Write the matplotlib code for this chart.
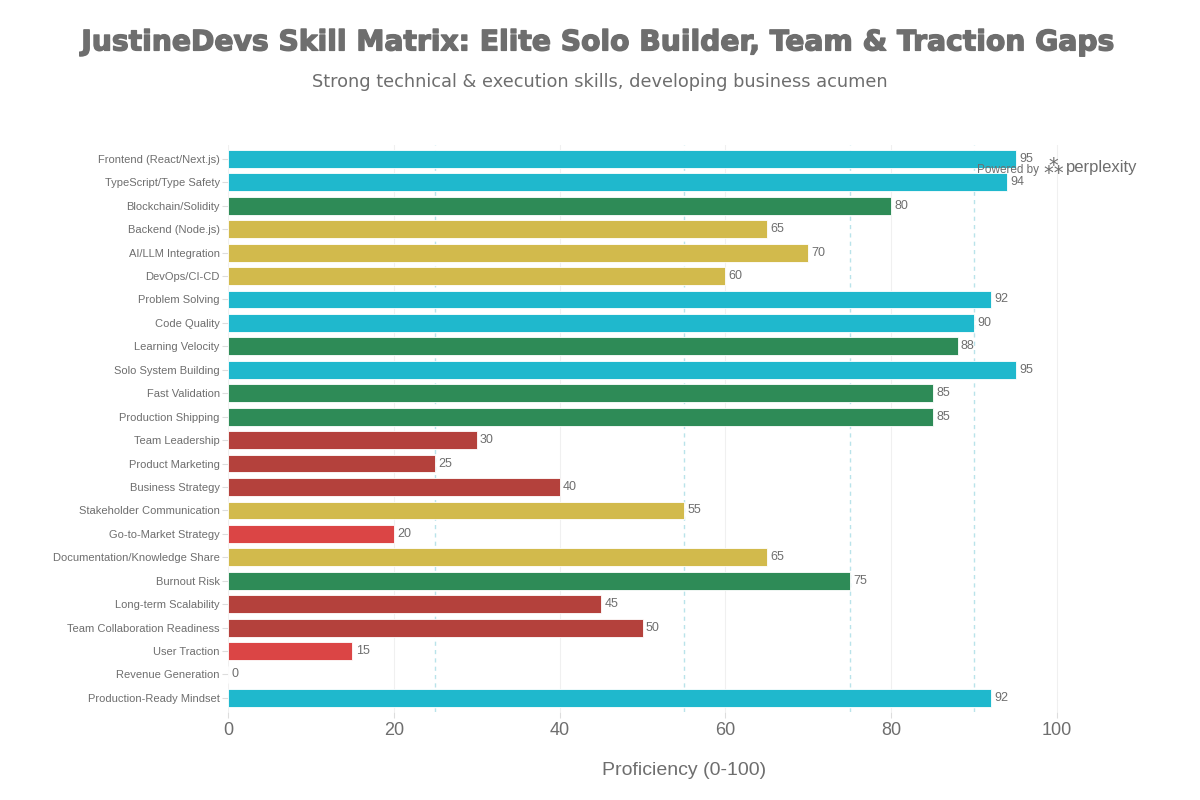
import matplotlib.pyplot as plt
import matplotlib.patheffects as pe

# Donnees du graphique
skills = ['Frontend (React/Next.js)', 'TypeScript/Type Safety', 'Blockchain/Solidity',
          'Backend (Node.js)', 'AI/LLM Integration', 'DevOps/CI-CD', 'Problem Solving',
          'Code Quality', 'Learning Velocity', 'Solo System Building', 'Fast Validation',
          'Production Shipping', 'Team Leadership', 'Product Marketing', 'Business Strategy',
          'Stakeholder Communication', 'Go-to-Market Strategy', 'Documentation/Knowledge Share',
          'Burnout Risk', 'Long-term Scalability', 'Team Collaboration Readiness',
          'User Traction', 'Revenue Generation', 'Production-Ready Mindset']
scores = [95, 94, 80, 65, 70, 60, 92, 90, 88, 95, 85, 85, 30, 25, 40, 55, 20, 65,
          75, 45, 50, 15, 0, 92]
levels = ['elite', 'elite', 'strong', 'mid', 'mid', 'mid', 'elite', 'elite', 'strong',
          'elite', 'strong', 'strong', 'weak', 'weak', 'weak', 'mid', 'gap', 'mid',
          'strong', 'weak', 'weak', 'gap', 'gap', 'elite']
thresholds = [25, 55, 75, 90]

palette = {'elite': '#1FB8CD', 'strong': '#2E8B57', 'mid': '#D2BA4C',
           'weak': '#B4413C', 'gap': '#DB4545'}
gris = '#6e6e6e'

fig = plt.figure(figsize=(12, 8), dpi=100)
ax = fig.add_axes([0.19, 0.11, 0.76, 0.709])

y = list(range(len(skills)))
couleurs = [palette[l] for l in levels]
ax.barh(y, scores, height=0.76, color=couleurs, edgecolor='white', linewidth=0.6, zorder=3)

for yi, s in zip(y, scores):
    ax.text(s + 0.4, yi, str(s), va='center', ha='left', fontsize=9,
            color=gris, family='Liberation Sans', zorder=4)

for t in thresholds:
    ax.axvline(t, color='#b9e3ea', linestyle=(0, (3, 3)), linewidth=1, zorder=1)

ax.set_xlim(0, 110)
ax.set_ylim(len(skills) - 0.4, -0.6)
ax.set_xticks([0, 20, 40, 60, 80, 100])
ax.grid(axis='x', color='#f0f0f0', linewidth=0.8, zorder=0)
ax.set_yticks(y)
ax.set_yticklabels(skills, fontsize=8, color=gris, family='Liberation Sans')
ax.tick_params(axis='x', labelsize=13, colors=gris, length=4, color='#dddddd')
ax.tick_params(axis='y', length=4, color='#dddddd', pad=2)
for lab in ax.get_xticklabels():
    lab.set_family('Liberation Sans')
for sp in ax.spines.values():
    sp.set_visible(False)

ax.set_xlabel('Proficiency (0-100)', fontsize=14, color=gris, family='Liberation Sans',
              labelpad=16)

titre = fig.text(0.5, 0.947, 'JustineDevs Skill Matrix: Elite Solo Builder, Team & Traction Gaps',
                 ha='center', va='center', fontsize=20.3, fontweight='bold', color=gris,
                 family='DejaVu Sans')
titre.set_path_effects([pe.Stroke(linewidth=1.0, foreground=gris), pe.Normal()])
fig.text(0.5, 0.898, 'Strong technical & execution skills, developing business acumen',
         ha='center', va='center', fontsize=12.8, color=gris, family='DejaVu Sans')

# logo
fig.text(0.866, 0.788, 'Powered by', ha='right', va='center', fontsize=8.5,
         color=gris, family='Liberation Sans')
fig.text(0.8775, 0.791, '⁂', ha='center', va='center', fontsize=14,
         color=gris, family='DejaVu Sans')
fig.text(0.888, 0.791, 'perplexity', ha='left', va='center', fontsize=12,
         color=gris, family='Liberation Sans')

fig.savefig('out.png', dpi=100, facecolor='white')
